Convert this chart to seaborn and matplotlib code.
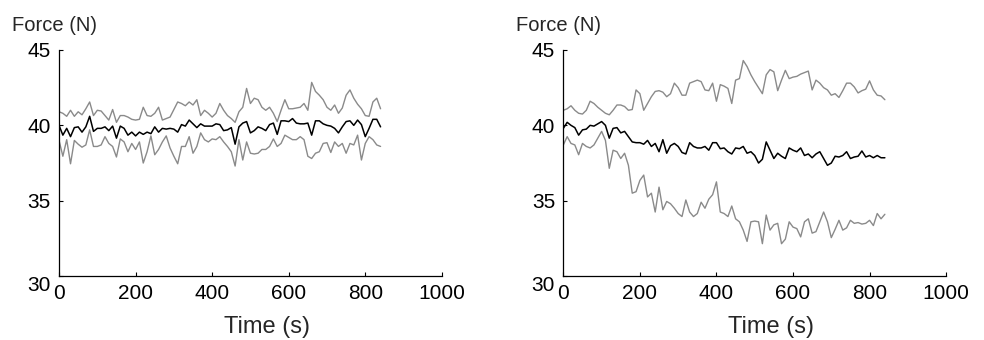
import numpy as np
import seaborn as sns
from matplotlib import pyplot as plt
from matplotlib import transforms

# sample times (s)
time = np.arange(0, 850, 10)

left_upper = [40.9, 40.8, 40.6, 41.0, 40.6, 40.9, 40.7, 41.1, 41.55, 40.65,
              41.0, 40.95, 40.65, 40.35, 41.05, 40.2, 40.65, 40.65, 40.55, 40.4,
              40.35, 40.4, 41.2, 40.65, 40.6, 40.8, 41.2, 40.35, 40.45, 40.55,
              41.05, 41.55, 41.45, 41.3, 41.55, 41.35, 41.7, 40.65, 41.0, 40.8,
              40.55, 40.8, 41.45, 41.0, 40.65, 40.45, 40.2, 40.9, 41.2, 42.45,
              41.45, 41.8, 41.7, 41.2, 41.0, 41.2, 40.8, 40.25, 41.0, 41.7,
              41.1, 41.1, 41.15, 41.2, 41.45, 41.0, 42.85, 42.25, 42.0, 41.7,
              41.2, 41.0, 41.35, 40.8, 41.15, 42.0, 42.35, 41.8, 41.4, 41.1,
              40.65, 40.6, 41.55, 41.8, 41.1]
left_mean = [40.0, 39.35, 39.8, 39.25, 39.85, 39.9, 39.55, 39.9, 40.6, 39.6,
             39.8, 39.8, 39.9, 39.65, 39.95, 39.15, 39.95, 39.8, 39.35, 39.55,
             39.3, 39.55, 39.4, 39.55, 39.45, 39.9, 39.55, 39.8, 39.75, 39.8,
             39.75, 39.55, 40.05, 39.95, 40.35, 40.1, 39.85, 40.1, 39.95, 39.95,
             39.95, 40.1, 40.05, 39.65, 39.7, 39.85, 38.75, 39.9, 40.15, 40.25,
             39.5, 39.65, 39.9, 39.8, 39.65, 40.05, 40.15, 39.4, 40.3, 40.3,
             40.25, 40.45, 40.15, 40.1, 40.1, 40.15, 39.35, 40.3, 40.3, 40.1,
             40.0, 39.95, 39.8, 39.5, 39.9, 40.25, 40.3, 40.0, 40.35, 40.05,
             39.25, 39.8, 40.4, 40.4, 39.9]
left_lower = [39.0, 37.95, 39.05, 37.45, 39.0, 38.75, 38.55, 38.7, 39.7, 38.6,
              38.6, 38.7, 39.25, 38.8, 38.6, 37.9, 39.1, 38.9, 38.25, 38.8,
              38.4, 38.9, 37.5, 38.25, 39.3, 38.05, 38.4, 38.9, 39.3, 38.5,
              37.95, 37.45, 38.6, 38.6, 39.25, 38.15, 38.6, 39.5, 39.05, 38.9,
              39.1, 39.05, 39.25, 38.9, 38.6, 38.25, 37.3, 39.05, 37.7, 38.9,
              38.15, 38.1, 38.15, 38.4, 38.4, 38.6, 39.1, 38.6, 38.8, 39.35,
              39.2, 39.05, 39.05, 39.25, 39.05, 37.95, 37.8, 38.15, 38.25, 38.8,
              38.85, 38.2, 38.9, 38.6, 38.8, 38.15, 38.8, 38.7, 39.35, 37.7,
              38.8, 39.25, 39.05, 38.7, 38.6]

right_upper = [41.0, 41.1, 41.3, 41.0, 40.8, 40.75, 41.0, 41.6, 41.45, 41.2,
               41.0, 40.8, 40.7, 41.0, 41.35, 41.35, 41.25, 41.0, 41.05, 42.35,
               42.1, 41.0, 41.45, 41.9, 42.25, 42.3, 42.2, 41.9, 42.1, 42.8,
               42.5, 42.0, 42.0, 42.8, 42.9, 43.0, 42.9, 42.35, 42.3, 42.8,
               41.6, 42.7, 42.6, 42.45, 41.45, 43.0, 43.1, 44.3, 43.9, 43.35,
               42.9, 42.5, 42.1, 43.35, 43.7, 43.55, 42.3, 43.0, 43.65, 43.1,
               43.2, 43.25, 43.4, 43.5, 43.6, 42.35, 43.0, 42.8, 42.5, 42.35,
               42.0, 42.1, 41.85, 42.3, 42.8, 42.8, 42.55, 42.15, 42.3, 42.4,
               42.95, 42.35, 42.0, 41.95, 41.7]
right_mean = [39.8, 40.2, 40.0, 39.85, 39.35, 39.7, 39.75, 40.0, 39.95, 40.1,
              40.25, 40.0, 39.15, 39.8, 39.85, 39.5, 39.6, 39.25, 38.9, 38.85,
              38.85, 38.75, 39.0, 38.6, 38.8, 38.25, 39.05, 38.15, 38.65, 38.8,
              38.6, 38.2, 38.1, 38.85, 38.6, 38.5, 38.5, 38.6, 38.35, 38.85,
              38.85, 38.45, 38.5, 38.25, 38.1, 38.5, 38.45, 38.6, 38.15, 38.25,
              38.0, 37.5, 37.75, 38.9, 38.35, 37.8, 38.15, 37.95, 37.8, 38.5,
              38.35, 38.25, 38.5, 38.0, 38.1, 37.85, 38.1, 38.25, 37.8, 37.35,
              37.5, 37.95, 37.9, 38.0, 38.25, 37.8, 37.9, 37.95, 38.3, 37.9,
              38.0, 37.85, 38.0, 37.85, 37.85]
right_lower = [38.7, 39.25, 38.8, 38.7, 38.05, 38.8, 38.6, 38.5, 38.7, 39.15,
               39.6, 39.0, 37.15, 38.35, 38.25, 37.8, 38.15, 37.35, 35.5, 35.6,
               36.35, 36.7, 35.25, 35.5, 34.25, 35.9, 34.4, 34.95, 34.8, 34.5,
               34.15, 33.95, 35.05, 34.25, 33.95, 34.15, 34.9, 34.5, 35.1, 35.4,
               36.25, 34.25, 34.15, 33.95, 34.65, 33.8, 33.6, 33.05, 32.3, 33.6,
               33.65, 33.6, 32.15, 34.05, 33.05, 33.4, 33.5, 32.15, 32.45, 33.6,
               33.25, 33.15, 32.6, 33.6, 33.8, 32.85, 32.95, 33.6, 34.25, 33.6,
               32.55, 33.1, 33.7, 33.05, 33.2, 33.7, 33.5, 33.55, 33.45, 33.5,
               33.7, 33.35, 34.15, 33.8, 34.1]

x_ticks = [0, 200, 400, 600, 800, 1000]
y_ticks = [30, 35, 40, 45]

sns.set_style('ticks')
plt.rcParams['font.family'] = ['Liberation Sans', 'DejaVu Sans']

fig = plt.figure(figsize=(9.84, 3.4), dpi=100)
ax_left = fig.add_axes([0.060, 0.188, 0.389, 0.665])
ax_right = fig.add_axes([0.5725, 0.188, 0.389, 0.665])

panels = [(ax_left, left_upper, left_mean, left_lower),
          (ax_right, right_upper, right_mean, right_lower)]

for ax, upper, mean, lower in panels:
    sns.lineplot(x=time, y=upper, color='#8a8a8a', linewidth=1.0, ax=ax)
    sns.lineplot(x=time, y=lower, color='#8a8a8a', linewidth=1.0, ax=ax)
    sns.lineplot(x=time, y=mean, color='black', linewidth=1.1, ax=ax)

    ax.set_xlim(0, 1000)
    ax.set_ylim(30, 45)
    ax.set_xticks(x_ticks)
    ax.set_yticks(y_ticks)
    ax.tick_params(direction='in', length=3, width=0.8, labelsize=15,
                   pad=6, colors='black')
    sns.despine(ax=ax)
    for side in ['left', 'bottom']:
        ax.spines[side].set_linewidth(0.9)
        ax.spines[side].set_color('black')

    # the "30" label sits a bit lower than the others
    lab = ax.get_yticklabels()[0]
    lab.set_transform(lab.get_transform() +
                      transforms.ScaledTranslation(0, -5 / 72, fig.dpi_scale_trans))

    ax.set_xlabel('Time (s)', fontsize=17)
    ax.xaxis.set_label_coords(0.543, -0.175)
    ax.set_ylabel('')
    ax.text(-0.123, 1.084, 'Force (N)', transform=ax.transAxes,
            fontsize=14.5, ha='left', va='baseline')

fig.savefig('out.png', dpi=100)
# plt.show()
